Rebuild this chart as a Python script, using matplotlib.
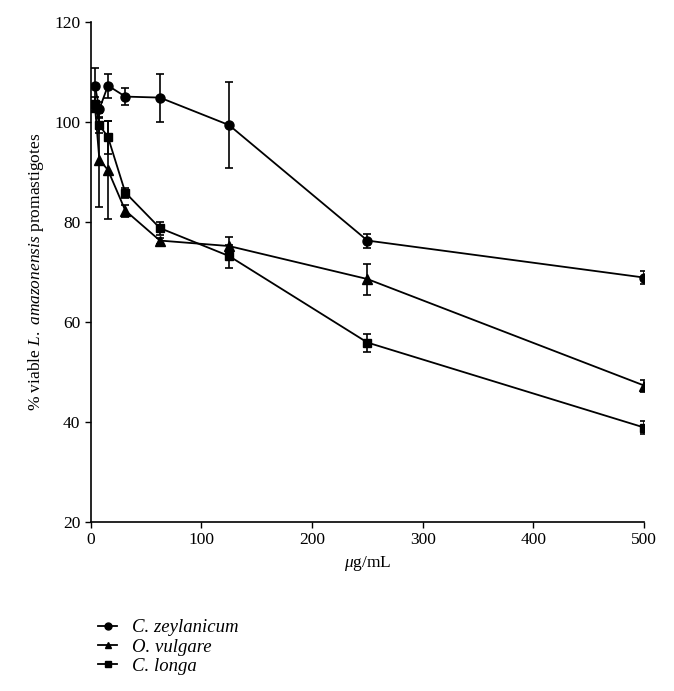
import matplotlib
matplotlib.use("Agg")
import matplotlib.pyplot as plt
from matplotlib.lines import Line2D

# concentrations (ug/mL)
conc = [3.9, 7.8, 15.6, 31.25, 62.5, 125, 250, 500]

# % viable promastigotes
zeylanicum = [107.2, 102.6, 107.3, 105.1, 104.9, 99.4, 76.3, 68.9]
zeylanicum_err = [3.6, 1.5, 2.4, 1.7, 4.8, 8.6, 1.4, 1.3]

vulgare = [103.0, 92.5, 90.4, 82.3, 76.3, 75.2, 68.6, 47.3]
vulgare_err = [1.0, 9.4, 9.8, 1.2, 0.6, 1.9, 3.1, 1.2]

longa = [103.6, 99.4, 97.0, 85.9, 78.8, 73.2, 55.9, 38.9]
longa_err = [1.5, 1.5, 3.3, 1.0, 1.3, 2.3, 1.8, 1.3]

series = [
    ("C. zeylanicum", zeylanicum, zeylanicum_err, "o"),
    ("O. vulgare", vulgare, vulgare_err, "^"),
    ("C. longa", longa, longa_err, "s"),
]

plt.rcParams["font.family"] = ["Liberation Serif", "DejaVu Serif"]
plt.rcParams["mathtext.fontset"] = "custom"
plt.rcParams["mathtext.rm"] = "Liberation Serif"
plt.rcParams["mathtext.it"] = "Liberation Serif:italic"

fig = plt.figure(figsize=(6.74, 6.91), dpi=100)
ax = fig.add_axes([0.1346, 0.2446, 0.821, 0.7234])

sizes = {"o": 6.5, "^": 6.5, "s": 6.0}
handles = []
for name, vals, err, mk in series:
    ax.errorbar(conc, vals, yerr=err, color="black", marker=mk, markersize=sizes[mk],
                linewidth=1.3, elinewidth=1.2, capsize=3, capthick=1.2)
    handles.append(Line2D([], [], color="black", marker=mk, markersize=sizes[mk] - 1.5,
                          linewidth=1.3, label=name))

ax.set_xlim(0, 500)
ax.set_ylim(20, 120)
ax.set_xticks([0, 100, 200, 300, 400, 500])
ax.set_yticks([20, 40, 60, 80, 100, 120])
ax.tick_params(labelsize=12.5, length=4, width=1, direction="out")
for side in ["top", "right"]:
    ax.spines[side].set_visible(False)
for side in ["left", "bottom"]:
    ax.spines[side].set_linewidth(1.2)

ax.set_xlabel(r"$\mathit{\mu}$g/mL", fontsize=12.5, labelpad=4)
ax.set_ylabel(r"% viable $\mathit{L.\ amazonensis}$ promastigotes", fontsize=12.5, labelpad=6)

leg = fig.legend(handles=handles, loc="upper left", bbox_to_anchor=(0.135, 0.115),
                 frameon=False, fontsize=13.5, handlelength=1.0, handletextpad=0.8,
                 labelspacing=0.12, borderaxespad=0)
for t in leg.get_texts():
    t.set_fontstyle("italic")

fig.savefig("out.png", dpi=100)
